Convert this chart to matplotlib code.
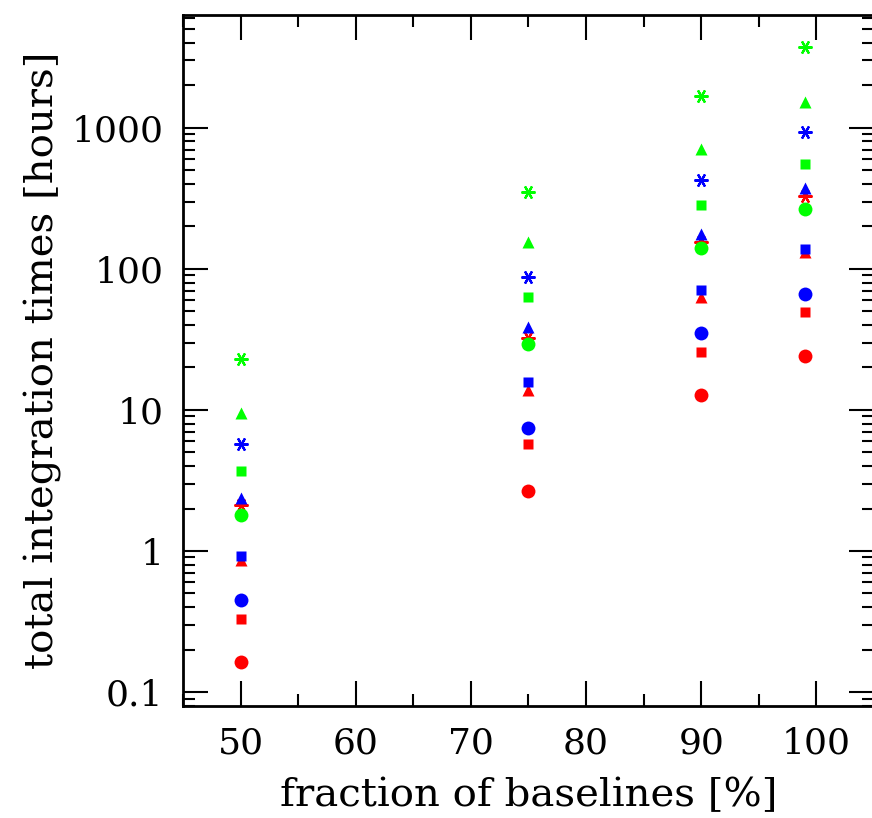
import numpy as np
import matplotlib
matplotlib.use("Agg")
import matplotlib.pyplot as plt
from matplotlib.ticker import FixedLocator, FixedFormatter, LogLocator, NullFormatter, MultipleLocator

# fraction of baselines [%]
fractions = [50, 75, 90, 99]

# total integration times [hours], one list per colour / marker
red_circle = [0.163, 2.66, 12.7, 24.1]
red_square = [0.33, 5.75, 25.9, 49.7]
red_triangle = [0.86, 13.8, 63.4, 132]
red_star = [2.12, 32.2, 156, 330]

blue_circle = [0.45, 7.4, 35.1, 66.6]
blue_square = [0.92, 15.8, 71, 138]
blue_triangle = [2.39, 38.7, 177, 376]
blue_star = [5.7, 87.5, 424, 937]

green_circle = [1.79, 29.5, 140, 265]
green_square = [3.71, 63.4, 284, 556]
green_triangle = [9.46, 155, 707, 1514]
green_star = [22.9, 348, 1686, 3715]

y_ticks = [0.1, 1, 10, 100, 1000]
y_tick_labels = ['0.1', '1', '10', '100', '1000']

plt.rcParams['font.family'] = ['DejaVu Serif']

fig = plt.figure(figsize=(8.72, 8.18), dpi=100)
ax = fig.add_axes([183 / 872, 1 - 706 / 818, (874 - 183) / 872, (706 - 15) / 818])

star = (6, 2, 90)
series = [
    ('#ff0000', red_circle, red_square, red_triangle, red_star),
    ('#0000ff', blue_circle, blue_square, blue_triangle, blue_star),
    ('#00ff00', green_circle, green_square, green_triangle, green_star),
]
for col, circ, sq, tri, st in series:
    ax.plot(fractions, circ, linestyle='none', marker='o', ms=10, color=col, mec='none')
    ax.plot(fractions, sq, linestyle='none', marker='s', ms=7, color=col, mec='none')
    ax.plot(fractions, tri, linestyle='none', marker='^', ms=8.5, color=col, mec='none')
    ax.plot(fractions, st, linestyle='none', marker=star, ms=10, color=col, mew=1.6)

ax.set_yscale('log')
ax.set_xlim(45, 105)
ax.set_ylim(0.0797, 6300)

ax.xaxis.set_major_locator(MultipleLocator(10))
ax.xaxis.set_minor_locator(MultipleLocator(5))
ax.yaxis.set_major_locator(FixedLocator(y_ticks))
ax.yaxis.set_major_formatter(FixedFormatter(y_tick_labels))
ax.yaxis.set_minor_locator(LogLocator(base=10, subs=np.arange(2, 10)))
ax.yaxis.set_minor_formatter(NullFormatter())

for s in ax.spines.values():
    s.set_linewidth(2)
ax.tick_params(which='both', direction='in', top=True, right=True, width=1.5, labelsize=26)
ax.tick_params(which='major', length=18)
ax.tick_params(which='minor', length=8.5)
ax.tick_params(axis='x', pad=15)
ax.tick_params(axis='y', pad=14)

ax.set_xlabel('fraction of baselines [%]', fontsize=29, labelpad=12)
ax.set_ylabel('total integration times [hours]', fontsize=29, labelpad=7)

fig.savefig('out.png', dpi=100)
